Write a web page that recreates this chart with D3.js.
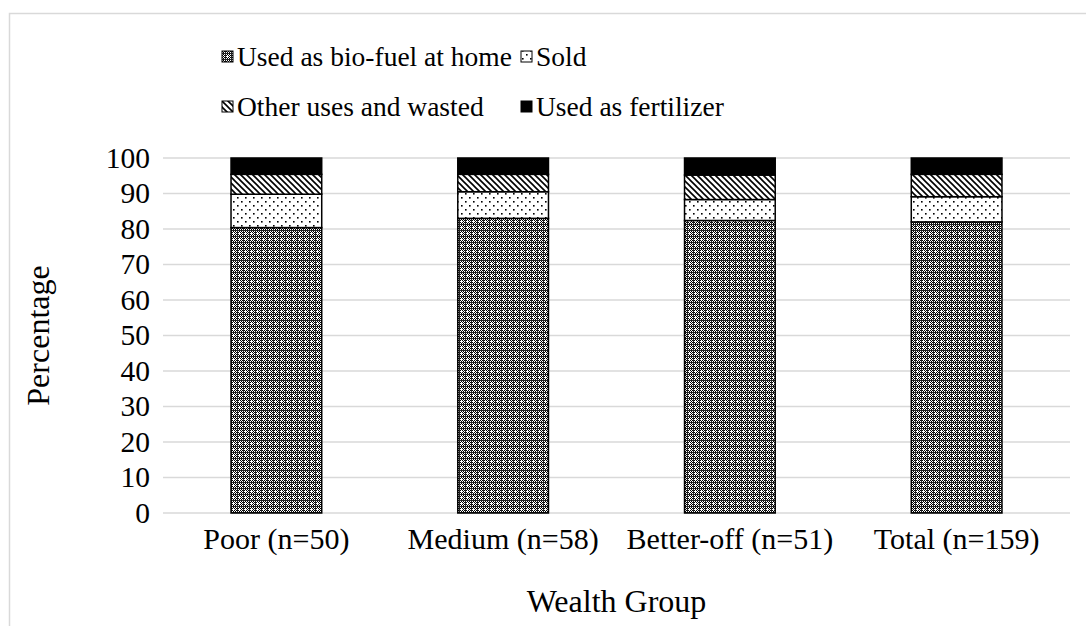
<!DOCTYPE html>
<html>
<head>
<meta charset="utf-8">
<script src="https://cdn.jsdelivr.net/npm/d3@7"></script>
<style>
  body { margin: 0; background: #fff; }
  svg { display: block; }
  text { font-family: "Liberation Serif", serif; }
</style>
</head>
<body>
<svg id="chart" width="1086" height="626"></svg>
<script>
const width = 1086
const height = 626
const font = "Liberation Serif"

const groups = ["Poor (n=50)", "Medium (n=58)", "Better-off (n=51)", "Total (n=159)"]
const seriesNames = ["Used as bio-fuel at home", "Sold", "Other uses and wasted", "Used as fertilizer"]
const bioFuel = [80.4, 83.0, 82.4, 82.0]
const sold = [9.4, 7.5, 5.9, 7.1]
const otherUses = [5.6, 4.9, 6.9, 6.3]
const fertilizer = [4.6, 4.6, 4.8, 4.6]
const yTicks = [0, 10, 20, 30, 40, 50, 60, 70, 80, 90, 100]

const seriesValues = [bioFuel, sold, otherUses, fertilizer]
const patternIds = ["pBio", "pSold", "pOther", "pFert"]

const margin = { top: 158, right: 16, bottom: 113, left: 163 }

var svg = d3.select("#chart")

// outer chart border (only top/left visible in the frame)
svg.append("rect")
    .attr("x", 9.5).attr("y", 13.5)
    .attr("width", 1200).attr("height", 800)
    .attr("fill", "none")
    .attr("stroke", "#d9d9d9")
    .attr("stroke-width", 1.5)

var defs = svg.append("defs")

// dense dark checker for bio-fuel
var pb = defs.append("pattern").attr("id", "pBio")
    .attr("patternUnits", "userSpaceOnUse").attr("width", 6).attr("height", 6)
pb.append("rect").attr("width", 6).attr("height", 6).attr("fill", "#fff")
for (let i = 0; i < 6; i++) {
    for (let j = 0; j < 6; j++) {
        if ((i + j) % 2 === 0) pb.append("rect").attr("x", i).attr("y", j).attr("width", 1).attr("height", 1).attr("fill", "#000")
    }
}
pb.append("rect").attr("x", 0).attr("y", 2).attr("width", 6).attr("height", 1).attr("fill", "#222")
pb.append("rect").attr("x", 3).attr("y", 0).attr("width", 1).attr("height", 6).attr("fill", "#222")
pb.append("rect").attr("x", 5).attr("y", 5).attr("width", 1).attr("height", 1).attr("fill", "#fff")

// sparse dots for sold
var ps = defs.append("pattern").attr("id", "pSold")
    .attr("patternUnits", "userSpaceOnUse").attr("width", 8).attr("height", 8)
ps.append("rect").attr("width", 8).attr("height", 8).attr("fill", "#fff")
ps.append("rect").attr("x", 1).attr("y", 1).attr("width", 1.6).attr("height", 1.6).attr("fill", "#000")
ps.append("rect").attr("x", 5).attr("y", 5).attr("width", 1.6).attr("height", 1.6).attr("fill", "#000")

// diagonal stripes for other uses
var po = defs.append("pattern").attr("id", "pOther")
    .attr("patternUnits", "userSpaceOnUse").attr("width", 6).attr("height", 6)
po.append("rect").attr("width", 6).attr("height", 6).attr("fill", "#fff")
po.append("path").attr("d", "M-1,-1 L7,7 M-4,2 L2,8 M4,-2 L10,4")
    .attr("stroke", "#000").attr("stroke-width", 1.6)

var pf = defs.append("pattern").attr("id", "pFert")
    .attr("patternUnits", "userSpaceOnUse").attr("width", 6).attr("height", 6)
pf.append("rect").attr("width", 6).attr("height", 6).attr("fill", "#000")

var x = d3.scaleBand()
    .domain(groups)
    .range([margin.left, width - margin.right])
    .paddingInner(0.6)
    .paddingOuter(0.3)

var y = d3.scaleLinear()
    .domain([0, 100])
    .range([height - margin.bottom, margin.top])

// gridlines
svg.append("g")
    .selectAll("line")
    .data(yTicks)
    .enter().append("line")
    .attr("x1", margin.left)
    .attr("x2", width - margin.right)
    .attr("y1", d => y(d))
    .attr("y2", d => y(d))
    .attr("stroke", "#d9d9d9")
    .attr("stroke-width", 1.5)

// y axis labels
var yAxis = svg.append("g")
    .attr("transform", "translate(" + (margin.left - 13) + ",0)")
    .call(d3.axisLeft(y).tickValues(yTicks).tickSize(0).tickPadding(0))
yAxis.attr("font-family", font)
yAxis.select(".domain").remove()
yAxis.selectAll("text")
    .attr("font-size", 29.5)
    .attr("font-family", font)
    .attr("fill", "#000")

// x axis labels
var xAxis = svg.append("g")
    .attr("transform", "translate(0," + (height - margin.bottom) + ")")
    .call(d3.axisBottom(x).tickSize(0).tickPadding(15))
xAxis.attr("font-family", font)
xAxis.select(".domain").remove()
xAxis.selectAll("text")
    .attr("font-size", 30)
    .attr("font-family", font)
    .attr("fill", "#000")

// stacked data
var rows = groups.map((g, i) => {
    let r = { group: g }
    seriesNames.forEach((s, k) => { r[s] = seriesValues[k][i] })
    return r
})
var stacked = d3.stack().keys(seriesNames)(rows)

svg.append("g")
    .selectAll("g")
    .data(stacked)
    .enter().append("g")
    .attr("fill", (d, k) => "url(#" + patternIds[k] + ")")
    .selectAll("rect")
    .data(d => d)
    .enter().append("rect")
    .attr("x", d => x(d.data.group))
    .attr("width", x.bandwidth())
    .attr("y", d => y(Math.min(d[1], 100)))
    .attr("height", d => y(d[0]) - y(Math.min(d[1], 100)))
    .attr("stroke", "#000")
    .attr("stroke-width", 1.5)

// axis titles
svg.append("text")
    .attr("transform", "translate(49," + ((margin.top + height - margin.bottom) / 2) + ") rotate(-90)")
    .attr("text-anchor", "middle")
    .attr("font-family", font)
    .attr("font-size", 32)
    .text("Percentage")

svg.append("text")
    .attr("x", (margin.left + width - margin.right) / 2)
    .attr("y", 612)
    .attr("text-anchor", "middle")
    .attr("font-family", font)
    .attr("font-size", 32)
    .text("Wealth Group")

// legend
const legendPos = [[222, 57], [521, 57], [222, 107], [521, 107]]
var legend = svg.append("g")
    .selectAll("g")
    .data(seriesNames)
    .enter().append("g")
    .attr("transform", (d, k) => "translate(" + legendPos[k][0] + "," + legendPos[k][1] + ")")
legend.append("rect")
    .attr("x", 0).attr("y", -6)
    .attr("width", 11).attr("height", 11)
    .attr("fill", (d, k) => "url(#" + patternIds[k] + ")")
    .attr("stroke", "#000")
    .attr("stroke-width", 1)
legend.append("text")
    .attr("x", 15)
    .attr("y", 9)
    .attr("font-family", font)
    .attr("font-size", 27.5)
    .text(d => d)
</script>
</body>
</html>
